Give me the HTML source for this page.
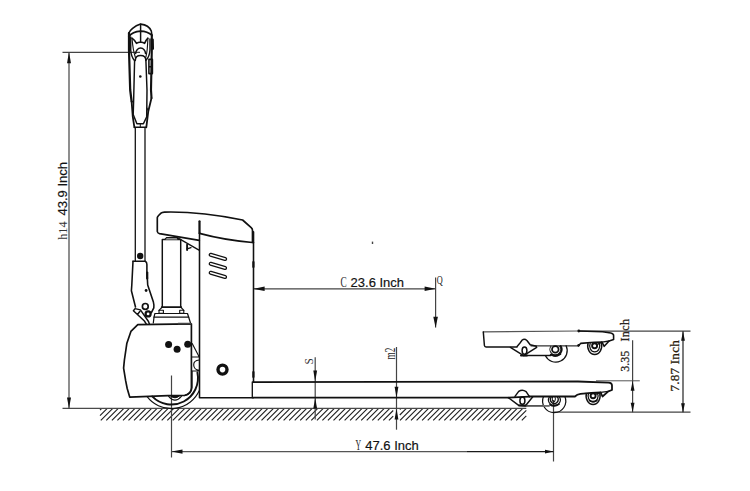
<!DOCTYPE html>
<html lang="en">
<head>
<meta charset="utf-8">
<title>Pallet truck dimensions</title>
<style>
html,body{margin:0;padding:0;background:#fff;}
body{width:750px;height:491px;overflow:hidden;position:relative;}
svg{display:block;position:absolute;left:0;top:0;}
.sans{font-family:"Liberation Sans","DejaVu Sans",sans-serif;}
.serif{font-family:"Liberation Serif","DejaVu Serif",serif;}
.b{stroke:#111;stroke-width:0.18px;}
</style>
</head>
<body>
<svg width="750" height="491" viewBox="0 0 750 491">
<rect x="0" y="0" width="750" height="491" fill="#ffffff"/>
<!-- ground hatch -->
<path d="M100.0 410.1L101.7 408.4M100.0 415.7L107.3 408.4M100.8 420.4L112.8 408.4M106.3 420.4L118.3 408.4M111.9 420.4L123.9 408.4M117.4 420.4L129.4 408.4M123.0 420.4L135.0 408.4M128.5 420.4L140.5 408.4M134.0 420.4L146.0 408.4M139.6 420.4L151.6 408.4M145.1 420.4L157.1 408.4M150.7 420.4L162.7 408.4M156.2 420.4L168.2 408.4M161.7 420.4L173.7 408.4M167.3 420.4L179.3 408.4M172.8 420.4L184.8 408.4M178.4 420.4L190.4 408.4M183.9 420.4L195.9 408.4M189.4 420.4L201.4 408.4M195.0 420.4L207.0 408.4M200.5 420.4L212.5 408.4M206.1 420.4L218.1 408.4M211.6 420.4L223.6 408.4M217.1 420.4L229.1 408.4M222.7 420.4L234.7 408.4M228.2 420.4L240.2 408.4M233.8 420.4L245.8 408.4M239.3 420.4L251.3 408.4M244.8 420.4L256.8 408.4M250.4 420.4L262.4 408.4M255.9 420.4L267.9 408.4M261.5 420.4L273.5 408.4M267.0 420.4L279.0 408.4M272.5 420.4L284.5 408.4M278.1 420.4L290.1 408.4M283.6 420.4L295.6 408.4M289.2 420.4L301.2 408.4M294.7 420.4L306.7 408.4M300.2 420.4L312.2 408.4M305.8 420.4L317.8 408.4M311.3 420.4L323.3 408.4M316.9 420.4L328.9 408.4M322.4 420.4L334.4 408.4M327.9 420.4L339.9 408.4M333.5 420.4L345.5 408.4M339.0 420.4L351.0 408.4M344.6 420.4L356.6 408.4M350.1 420.4L362.1 408.4M355.6 420.4L367.6 408.4M361.2 420.4L373.2 408.4M366.7 420.4L378.7 408.4M372.3 420.4L384.3 408.4M377.8 420.4L389.8 408.4M383.3 420.4L393.2 410.5M388.9 420.4L393.2 416.1M399.8 409.5L400.9 408.4M399.8 415.0L406.4 408.4M400.0 420.4L412.0 408.4M405.5 420.4L417.5 408.4M411.0 420.4L423.0 408.4M416.6 420.4L428.6 408.4M422.1 420.4L434.1 408.4M427.7 420.4L439.7 408.4M433.2 420.4L445.2 408.4M438.7 420.4L450.7 408.4M444.3 420.4L456.3 408.4M449.8 420.4L461.8 408.4M455.4 420.4L467.4 408.4M460.9 420.4L472.9 408.4M466.4 420.4L478.4 408.4M472.0 420.4L484.0 408.4M477.5 420.4L489.5 408.4M483.1 420.4L495.1 408.4M488.6 420.4L500.6 408.4M494.1 420.4L506.1 408.4M499.7 420.4L511.7 408.4M505.2 420.4L517.2 408.4M510.8 420.4L522.8 408.4M516.3 420.4L526.3 410.4M521.8 420.4L526.3 415.9" stroke="#222" stroke-width="1.15" fill="none" stroke-linejoin="round" stroke-linecap="butt" />
<line x1="62.5" y1="408.4" x2="526.3" y2="408.4" stroke="#4a4a4a" stroke-width="1.1" />
<!-- dimension lines -->
<line x1="62.5" y1="52.4" x2="140" y2="52.4" stroke="#444" stroke-width="1.2" />
<line x1="69" y1="52.4" x2="69" y2="408.4" stroke="#444" stroke-width="1.2" />
<polygon points="69.0,52.3 67.0,63.3 71.0,63.3" fill="#111"/>
<polygon points="69.0,408.4 67.0,397.4 71.0,397.4" fill="#111"/>
<line x1="171.5" y1="375.5" x2="171.5" y2="457.5" stroke="#444" stroke-width="1.2" />
<line x1="553.5" y1="400" x2="553.5" y2="461.5" stroke="#444" stroke-width="1.2" />
<line x1="171.5" y1="451.6" x2="467" y2="451.6" stroke="#555" stroke-width="1.2" />
<line x1="467" y1="451.6" x2="553.5" y2="451.6" stroke="#1a1a1a" stroke-width="1.2" />
<polygon points="171.5,451.6 182.5,449.4 182.5,453.8" fill="#111"/>
<polygon points="553.5,451.6 545.0,449.8 545.0,453.4" fill="#111"/>
<line x1="253.4" y1="288.8" x2="435.6" y2="288.8" stroke="#444" stroke-width="1.2" />
<polygon points="253.6,288.8 264.6,286.6 264.6,291.0" fill="#111"/>
<polygon points="435.6,288.8 424.6,286.6 424.6,291.0" fill="#111"/>
<line x1="435.6" y1="277.5" x2="435.6" y2="327.6" stroke="#444" stroke-width="1.2" />
<polygon points="435.6,327.8 433.3,316.8 437.9,316.8" fill="#111"/>
<line x1="315.2" y1="357.3" x2="315.2" y2="419.5" stroke="#444" stroke-width="1.2" />
<polygon points="315.2,381.6 313.3,370.6 317.1,370.6" fill="#111"/>
<polygon points="315.2,397.9 313.3,408.4 317.1,408.4" fill="#111"/>
<line x1="396.5" y1="347" x2="396.5" y2="429.7" stroke="#444" stroke-width="1.2" />
<polygon points="396.5,397.8 394.6,386.8 398.4,386.8" fill="#111"/>
<polygon points="396.5,408.6 394.6,419.6 398.4,419.6" fill="#111"/>
<line x1="579" y1="331.2" x2="690.5" y2="331.2" stroke="#444" stroke-width="1.2" />
<line x1="554" y1="412.2" x2="690.5" y2="412.2" stroke="#444" stroke-width="1.2" />
<line x1="596" y1="380.8" x2="639.8" y2="380.8" stroke="#555" stroke-width="1.0" />
<line x1="632.6" y1="340.2" x2="632.6" y2="412.2" stroke="#444" stroke-width="1.2" />
<line x1="683" y1="331.2" x2="683" y2="412.2" stroke="#222" stroke-width="1.2" />
<polygon points="632.6,380.8 630.7,390.8 634.5,390.8" fill="#111"/>
<polygon points="632.6,412.2 630.7,402.7 634.5,402.7" fill="#111"/>
<polygon points="683.0,331.2 681.1,340.7 684.9,340.7" fill="#111"/>
<polygon points="683.0,412.2 681.1,403.2 684.9,403.2" fill="#111"/>
<!-- handle -->
<path d="M128.7 33.2 C129.6 30.4 134.2 26 140.6 24.1 C146 24.7 150 27.8 151.3 31 L152 35.6" stroke="#111" stroke-width="1.57" fill="none" stroke-linejoin="round" stroke-linecap="round" />
<path d="M128.8 36.8 C131 33.6 136 31.3 140.6 31.1 C145 31.2 149.4 33 151.8 35.2" stroke="#111" stroke-width="1.79" fill="none" stroke-linejoin="round" stroke-linecap="round" />
<path d="M140.6 24.2 V42" stroke="#111" stroke-width="1.46" fill="none" stroke-linejoin="round" stroke-linecap="round" />
<path d="M132 38.2 Q134 39.5 136.5 43.4 Q138.6 42 140.6 42.3 Q142.6 42 144.6 43.4 Q146.4 39.5 147.9 38.2" stroke="#111" stroke-width="1.57" fill="none" stroke-linejoin="round" stroke-linecap="round" />
<path d="M135.7 53.5 A4.9 5.4 0 0 1 145.5 53.5" stroke="#111" stroke-width="1.46" fill="none" stroke-linejoin="round" stroke-linecap="round" />
<path d="M129 33 L129 50 L130.2 90 L131.6 101.4" stroke="#111" stroke-width="2.24" fill="none" stroke-linejoin="round" stroke-linecap="round" />
<path d="M131.6 101.4 L132.8 116.9 L134.4 127.3" stroke="#111" stroke-width="1.79" fill="none" stroke-linejoin="round" stroke-linecap="round" />
<path d="M130.7 37 L130.7 50 Q131.2 57 134.5 60.5" stroke="#111" stroke-width="1.46" fill="none" stroke-linejoin="round" stroke-linecap="round" />
<path d="M132 38.2 Q132.6 45 133.4 49.5 Q134 53 135.4 57.5" stroke="#111" stroke-width="1.12" fill="none" stroke-linejoin="round" stroke-linecap="round" />
<path d="M147.9 38.2 Q147.6 45 147.2 49.5 Q146.8 53 145.8 57.5" stroke="#111" stroke-width="1.12" fill="none" stroke-linejoin="round" stroke-linecap="round" />
<path d="M151.8 35.4 L151.8 50 L151 90 L151.5 98" stroke="#111" stroke-width="2.13" fill="none" stroke-linejoin="round" stroke-linecap="round" />
<path d="M151.5 98 L148.3 111.2 L146.3 127.3" stroke="#111" stroke-width="1.79" fill="none" stroke-linejoin="round" stroke-linecap="round" />
<path d="M150 39 L150 50 Q149.5 57 146 60" stroke="#111" stroke-width="1.46" fill="none" stroke-linejoin="round" stroke-linecap="round" />
<path d="M152.7 39.5 L152.9 48.8" stroke="#111" stroke-width="2.24" fill="none" stroke-linejoin="round" stroke-linecap="round" />
<path d="M148.9 59.4 H152.4 V73.6 H148.9 Z M148.9 66.7 H152.4" stroke="#111" stroke-width="1.57" fill="none" stroke-linejoin="round" stroke-linecap="round" />
<path d="M135.3 60.5 Q135.3 55.5 140.6 55.5 Q145.9 55.5 145.9 60.5" stroke="#111" stroke-width="1.46" fill="none" stroke-linejoin="round" stroke-linecap="round" />
<path d="M134.6 60.5 L133.6 101.4 L133.2 114.4 L136.9 123.8 H143.4 L146.7 116.9 L147 90 L145.9 60.5" stroke="#111" stroke-width="1.46" fill="none" stroke-linejoin="round" stroke-linecap="round" />
<path d="M131.8 101.4 L133.4 102.4 M148.4 111 L146.9 108" stroke="#111" stroke-width="1.12" fill="none" stroke-linejoin="round" stroke-linecap="round" />
<path d="M134.4 127.3 H146.3" stroke="#111" stroke-width="1.57" fill="none" stroke-linejoin="round" stroke-linecap="round" />
<path d="M140.3 124 V127.3" stroke="#111" stroke-width="1.01" fill="none" stroke-linejoin="round" stroke-linecap="round" />
<circle cx="140.3" cy="76.5" r="1.3" fill="#111"/>
<!-- pole -->
<line x1="135.3" y1="127.3" x2="135.3" y2="261" stroke="#111" stroke-width="1.3" />
<line x1="145" y1="127.3" x2="145" y2="261" stroke="#111" stroke-width="1.3" />
<circle cx="140.2" cy="256" r="3.2" fill="#111"/>
<!-- link bracket -->
<path d="M133 261.3 H145.3 Q146.9 262 146.9 264.6 V272 Q147.5 280 147.7 285 L153.4 302.1 Q154.2 305 153.8 307.8 L151.4 312.7" stroke="#111" stroke-width="1.57" fill="none" stroke-linejoin="round" stroke-linecap="round" />
<path d="M133 261.3 L131.8 285 L131.4 290.7 L135.5 307" stroke="#111" stroke-width="1.57" fill="none" stroke-linejoin="round" stroke-linecap="round" />
<path d="M147.2 272.5 V278.5" stroke="#111" stroke-width="2.24" fill="none" stroke-linejoin="round" stroke-linecap="round" />
<circle cx="146.1" cy="290.5" r="1.4" fill="#111"/>
<circle cx="145.3" cy="306.4" r="2.9" stroke="#111" stroke-width="1.68" fill="none"/>
<circle cx="148.1" cy="313.9" r="2.5" stroke="#111" stroke-width="2.24" fill="none"/>
<path d="M135.1 308.6 L133.4 310.7 L144.4 321 L146.5 324.3 M135.1 308.6 L140.4 309.9 L148.5 321.5 L149.5 324.3 M137.5 314.5 L139.8 311.5" stroke="#111" stroke-width="1.46" fill="none" stroke-linejoin="round" stroke-linecap="round" />
<!-- cylinder -->
<path d="M162.3 307 V239.4 H180.7 V307" stroke="#111" stroke-width="1.46" fill="none" stroke-linejoin="round" stroke-linecap="round" />
<path d="M161.8 307.1 H181.2" stroke="#111" stroke-width="1.79" fill="none" stroke-linejoin="round" stroke-linecap="round" />
<path d="M165 239.4 L166.5 237.6 H177 L178 239.4" stroke="#111" stroke-width="1.12" fill="#bbb" stroke-linejoin="round" stroke-linecap="round" />
<path d="M159 310.3 H163.4 V313.2 H159 Z M179.7 310.3 H183.8 V313.2 H179.7 Z" stroke="#111" stroke-width="1.12" fill="none" stroke-linejoin="round" stroke-linecap="round" />
<path d="M162.3 307 L159 310.3 M180.7 307 L183.8 310.3" stroke="#111" stroke-width="1.12" fill="none" stroke-linejoin="round" stroke-linecap="round" />
<path d="M154.9 313.5 H187.5 L188.7 317.2 H154 Z" stroke="#111" stroke-width="1.23" fill="none" stroke-linejoin="round" stroke-linecap="round" />
<path d="M154 317.2 L153.3 323 M188.7 317.2 L190.5 323" stroke="#111" stroke-width="1.23" fill="none" stroke-linejoin="round" stroke-linecap="round" />
<path d="M176.9 237.4 L199 250.1" stroke="#111" stroke-width="1.23" fill="none" stroke-linejoin="round" stroke-linecap="round" />
<path d="M187.1 244.8 V250" stroke="#111" stroke-width="1.9" fill="none" stroke-linejoin="round" stroke-linecap="round" />
<path d="M187.1 248.8 L191 247.6" stroke="#111" stroke-width="1.34" fill="none" stroke-linejoin="round" stroke-linecap="round" />
<!-- top cover -->
<path d="M157.3 217.6 Q157.5 216.6 158.6 215.5 L161 213.2 Q162 212.2 164.5 212.1 C185 211.6 215 214.4 242.6 220 L251.2 227.6 Q252.5 228.8 252.5 230.5 V242.4 M199.5 233.4 C212 236.8 231 240.6 252.3 242.5 M157.3 217.6 V231.5 Q157.5 233.2 159.5 233.6 L199.3 240.3" stroke="#111" stroke-width="1.68" fill="none" stroke-linejoin="round" stroke-linecap="round" />
<path d="M199.5 221.3 V233" stroke="#111" stroke-width="2.24" fill="none" stroke-linejoin="round" stroke-linecap="round" />
<!-- body -->
<path d="M199.5 233 V397.7 H253.3" stroke="#111" stroke-width="1.57" fill="none" stroke-linejoin="round" stroke-linecap="round" />
<path d="M253.5 242.5 V382" stroke="#111" stroke-width="1.57" fill="none" stroke-linejoin="round" stroke-linecap="round" />
<path d="M253.3 232 V242.5" stroke="#111" stroke-width="2.02" fill="none" stroke-linejoin="round" stroke-linecap="round" />
<path d="M252.3 381.9 V397.7" stroke="#111" stroke-width="1.34" fill="none" stroke-linejoin="round" stroke-linecap="round" />
<path d="M253.4 262 V267" stroke="#111" stroke-width="2.24" fill="none" stroke-linejoin="round" stroke-linecap="round" />
<path d="M253.4 372 V377" stroke="#111" stroke-width="2.24" fill="none" stroke-linejoin="round" stroke-linecap="round" />
<g transform="translate(210.2 254.7) rotate(16.2)"><rect x="-0.9" y="-1.4" width="17.8" height="2.8" rx="1.4" ry="1.4" fill="none" stroke="#111" stroke-width="1.3"/></g>
<g transform="translate(210.2 263.6) rotate(16.2)"><rect x="-0.9" y="-1.4" width="17.8" height="2.8" rx="1.4" ry="1.4" fill="none" stroke="#111" stroke-width="1.3"/></g>
<g transform="translate(210.2 272.6) rotate(16.2)"><rect x="-0.9" y="-1.4" width="17.8" height="2.8" rx="1.4" ry="1.4" fill="none" stroke="#111" stroke-width="1.3"/></g>
<circle cx="222.5" cy="369.6" r="4.5" stroke="#111" stroke-width="3.4" fill="none"/>
<!-- drive wheel -->
<path d="M199.3 390.6A30.6 30.6 0 0 1 147.1 396.6" stroke="#111" stroke-width="1.12" fill="none" stroke-linejoin="round" stroke-linecap="round" />
<path d="M197.4 372.5A26.6 26.6 0 0 1 152.2 396.4" stroke="#111" stroke-width="1.9" fill="none" stroke-linejoin="round" stroke-linecap="round" />
<path d="M191.9 371.5 V387.5 Q191.6 393.5 185 395.4" stroke="#111" stroke-width="1.46" fill="none" stroke-linejoin="round" stroke-linecap="round" />
<path d="M170.5 395.9 Q175 400 179.5 395.9 Z" stroke="#111" stroke-width="0.9" fill="#111" stroke-linejoin="round" stroke-linecap="round" />
<path d="M168.6 396.4 Q175 404 181.4 396.3" stroke="#111" stroke-width="1.12" fill="none" stroke-linejoin="round" stroke-linecap="round" />
<!-- drive cover -->
<path d="M191.4 387.7 V323.9 L137.8 324.6 L130.9 331.4 L126.8 343.6 L124.4 360 L123.6 368.1 L125.6 380.4 L127.2 388.5 L129.7 397.1 L168 395.6 L184.4 395.5 Q191.4 394 191.4 387.7" stroke="#111" stroke-width="1.68" fill="none" stroke-linejoin="round" stroke-linecap="round" />
<path d="M178.3 323.6 H191" stroke="#444" stroke-width="1.8" fill="none" stroke-linejoin="round" stroke-linecap="round" />
<circle cx="168.6" cy="344.4" r="3.5" fill="#111"/>
<circle cx="177.1" cy="349.2" r="3.5" fill="#111"/>
<circle cx="187.7" cy="344.3" r="3.5" fill="#111"/>
<path d="M192.2 343.6 L199.1 356.7 M192 357 H199.3" stroke="#111" stroke-width="1.12" fill="none" stroke-linejoin="round" stroke-linecap="round" />
<path d="M199.2 360 Q193.5 360.5 193.7 365 Q194 369.8 199.2 370.4 M191.6 371 H199.3" stroke="#111" stroke-width="1.12" fill="none" stroke-linejoin="round" stroke-linecap="round" />
<!-- forks -->
<path d="M253.3 382.1 L578 381.5 L608.5 382.7 Q612 383 612 385.5 V390 L608.3 391.3 L602.5 396.5 L600.6 392.3 L591.2 392.8 L580.5 393.9 Q577 394.5 574.9 396.5 H529.3" stroke="#111" stroke-width="1.79" fill="none" stroke-linejoin="round" stroke-linecap="round" />
<path d="M253.3 397.7 H508.2 L529.3 396.7" stroke="#111" stroke-width="1.79" fill="none" stroke-linejoin="round" stroke-linecap="round" />
<path d="M515 396.4 L518.7 391.4 Q522.4 388.8 526.1 391.6 L529.3 396.4" stroke="#111" stroke-width="1.46" fill="none" stroke-linejoin="round" stroke-linecap="round" />
<path d="M508.2 397.6 L518.7 405.3 L525.3 406 L532.6 397" stroke="#111" stroke-width="1.46" fill="none" stroke-linejoin="round" stroke-linecap="round" />
<ellipse cx="522.4" cy="400.7" rx="2.5" ry="3.6" fill="none" stroke="#111" stroke-width="1.5"/>
<path d="M519 405.6 H526" stroke="#111" stroke-width="2.02" fill="none" stroke-linejoin="round" stroke-linecap="round" />
<path d="M526 405.9 H549.6" stroke="#444" stroke-width="1.2" fill="none" stroke-linejoin="round" stroke-linecap="butt" />
<path d="M564.9 396.6A11.6 11.6 0 1 1 543.5 396.6" stroke="#111" stroke-width="1.23" fill="none" stroke-linejoin="round" stroke-linecap="butt" />
<path d="M543 405.8 H549.6" stroke="#fff" stroke-width="1.0" fill="none" stroke-linejoin="round" stroke-linecap="butt" />
<path d="M526 405.9 H549.6" stroke="#444" stroke-width="1.2" fill="none" stroke-linejoin="round" stroke-linecap="butt" />
<path d="M559.3 396.6A5.8 5.9 0 1 1 549.5 396.6" stroke="#111" stroke-width="1.12" fill="none" stroke-linejoin="round" stroke-linecap="butt" />
<path d="M557.2 396.6A3.8 4.3 0 1 1 551.4 396.6" stroke="#111" stroke-width="1.34" fill="none" stroke-linejoin="round" stroke-linecap="butt" />
<path d="M554.9 396.6A1.5 3.2 0 1 1 552.7 396.6" stroke="#111" stroke-width="1.01" fill="none" stroke-linejoin="round" stroke-linecap="butt" />
<path d="M549.8 404.6 Q554 407.8 559.2 404.2 Q554.5 406 549.8 404.6 Z" stroke="#111" stroke-width="1.34" fill="#111" stroke-linejoin="round" stroke-linecap="round" />
<path d="M599.7 393.0A7.0 8.6 0 1 1 586.5 393.0" stroke="#111" stroke-width="1.46" fill="none" stroke-linejoin="round" stroke-linecap="butt" />
<path d="M597.5 393.0A5.0 6.0 0 1 1 588.7 393.0" stroke="#111" stroke-width="1.23" fill="none" stroke-linejoin="round" stroke-linecap="butt" />
<circle cx="593.1" cy="395.8" r="2.5" stroke="#111" stroke-width="1.9" fill="none"/>
<path d="M589.5 400.6 Q593 402.6 596.8 400.4" stroke="#111" stroke-width="1.68" fill="none" stroke-linejoin="round" stroke-linecap="round" />
<path d="M596.5 394 L600.3 392.4" stroke="#111" stroke-width="1.46" fill="none" stroke-linejoin="round" stroke-linecap="round" />
<path d="M600.6 392.3 L608.3 391.3" stroke="#111" stroke-width="1.34" fill="none" stroke-linejoin="round" stroke-linecap="round" />
<path d="M579 331 L602.6 331.8 L610.7 333 Q613.6 333.5 613.6 335.5 V339.6 L609.1 341 L604.2 346.3 L602 342.1 L594.4 342.3 L580.6 343.4 L578.5 345.8" stroke="#111" stroke-width="1.57" fill="none" stroke-linejoin="round" stroke-linecap="round" />
<path d="M578.5 345.8 H531" stroke="#333" stroke-width="1.3" fill="none" stroke-linejoin="round" stroke-linecap="round" />
<path d="M579 331 L483.3 331.9" stroke="#555" stroke-width="1.2" fill="none" stroke-linejoin="round" stroke-linecap="round" />
<path d="M483.3 331.9 L484.4 345.5 Q484.6 346.9 486 346.9 H517" stroke="#111" stroke-width="1.46" fill="none" stroke-linejoin="round" stroke-linecap="round" />
<path d="M517.1 346.4 L519.6 343.6 L522.2 340 Q524.5 338.4 526.9 340.5 L530.2 344.8 L536.3 346.3" stroke="#111" stroke-width="1.46" fill="none" stroke-linejoin="round" stroke-linecap="round" />
<path d="M510.4 347.4 L523.6 355.6 L536.7 347.3" stroke="#111" stroke-width="1.46" fill="none" stroke-linejoin="round" stroke-linecap="round" />
<ellipse cx="524.5" cy="350.6" rx="2.4" ry="3.6" fill="none" stroke="#111" stroke-width="1.5"/>
<path d="M521 355.4 H527" stroke="#111" stroke-width="2.02" fill="none" stroke-linejoin="round" stroke-linecap="round" />
<path d="M523.6 355.5 H551.2" stroke="#111" stroke-width="1.46" fill="none" stroke-linejoin="round" stroke-linecap="butt" />
<circle cx="578.8" cy="331" r="1.4" fill="#111"/>
<circle cx="578.6" cy="345.2" r="1.3" fill="#111"/>
<path d="M566.1 345.7A11.5 11.5 0 0 1 545.3 355.6" stroke="#111" stroke-width="1.23" fill="none" stroke-linejoin="round" stroke-linecap="round" />
<circle cx="555.3" cy="349.4" r="3.3" stroke="#111" stroke-width="1.68" fill="none"/>
<path d="M559.5 346.0A5.4 5.4 0 1 1 551.1 346.0" stroke="#111" stroke-width="1.01" fill="none" stroke-linejoin="round" stroke-linecap="butt" />
<path d="M560.7 346.0A6.4 6.4 0 0 1 552.1 354.9" stroke="#111" stroke-width="1.79" fill="none" stroke-linejoin="round" stroke-linecap="round" />
<path d="M550.6 354.6 Q555.5 357.6 560.6 354 Q556 356 550.6 354.6 Z" stroke="#111" stroke-width="1.57" fill="#111" stroke-linejoin="round" stroke-linecap="round" />
<path d="M601.3 343.0A7.0 8.6 0 1 1 588.1 343.0" stroke="#111" stroke-width="1.46" fill="none" stroke-linejoin="round" stroke-linecap="butt" />
<path d="M599.1 343.0A5.0 6.0 0 1 1 590.3 343.0" stroke="#111" stroke-width="1.23" fill="none" stroke-linejoin="round" stroke-linecap="butt" />
<circle cx="594.6" cy="345.8" r="2.5" stroke="#111" stroke-width="1.9" fill="none"/>
<path d="M597.8 344.2 L602 342.2" stroke="#111" stroke-width="1.46" fill="none" stroke-linejoin="round" stroke-linecap="round" />
<path d="M602 342.1 L609.1 341" stroke="#111" stroke-width="1.34" fill="none" stroke-linejoin="round" stroke-linecap="round" />
<!-- stray dot -->
<rect x="371.8" y="241.6" width="1.4" height="2.4" fill="#444"/>
<!-- labels -->
<g fill="#111">
<text class="serif" transform="translate(340.4 287) scale(0.66 1)" font-size="14.2" fill="#2a2a2a">C</text>
<text class="sans b" x="350.6" y="287" font-size="13">23.6 Inch</text>
<text class="serif" transform="translate(436.8 284) scale(0.66 1)" font-size="12.5" fill="#222">Q</text>
<text class="serif" transform="translate(355.4 450.3) scale(0.55 1)" font-size="14.2" fill="#222">Y</text>
<text class="sans b" x="365.3" y="450.4" font-size="13">47.6 Inch</text>
<g transform="translate(66.9 239.8) rotate(-90)">
<text class="serif" transform="scale(0.93 1)" font-size="13.2" fill="#333">h14</text>
<text class="sans b" x="24.3" y="0" font-size="13">43.9 Inch</text>
</g>
<g transform="translate(312.9 364.4) rotate(-90) scale(0.84 1)"><text class="serif" x="0" y="0" font-size="13.4" fill="#333">S</text></g>
<g transform="translate(394.7 359.5) rotate(-90) scale(0.65 1)"><text class="serif" x="0" y="0" font-size="14.2" fill="#222">m2</text></g>
<g transform="translate(628.6 371.8) rotate(-90)">
<text class="serif" x="0" y="0" font-size="12" fill="#2a2420" stroke="#2a2420" stroke-width="0.28">3.35</text>
<text class="serif" x="30.2" y="0" font-size="12" letter-spacing="0.45" fill="#2a2420" stroke="#2a2420" stroke-width="0.28">Inch</text>
</g>
<g transform="translate(679 391.6) rotate(-90)">
<text class="serif" x="0" y="0" font-size="13.2" letter-spacing="0.2" fill="#2a1c0c" stroke="#2a1c0c" stroke-width="0.28">7.87 Inch</text>
</g>
</g>
</svg>
</body>
</html>
